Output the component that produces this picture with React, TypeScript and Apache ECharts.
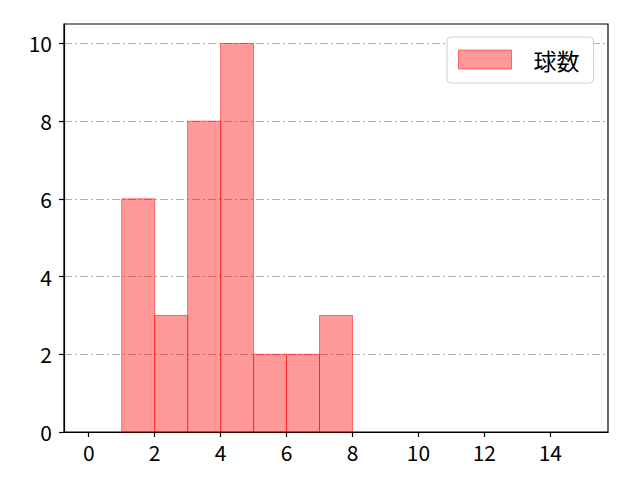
import React, { useEffect, useRef } from 'react';
import * as echarts from 'echarts';

// ヒストグラムのビン（左端・右端）と度数
const binStarts = [1, 2, 3, 4, 5, 6, 7];
const binEnds = [2, 3, 4, 5, 6, 7, 8];
const counts = [6, 3, 8, 10, 2, 2, 3];
const seriesName = '球数';
const xTicks = [0, 2, 4, 6, 8, 10, 12, 14];
const yTicks = [0, 2, 4, 6, 8, 10];

const FONT = '"Noto Sans CJK JP", "Noto Sans", sans-serif';

const App: React.FC = () => {
  const chartRef = useRef<HTMLDivElement>(null);

  useEffect(() => {
    document.body.style.margin = '0';
    if (!chartRef.current) return;
    const chart = echarts.init(chartRef.current, null, { renderer: 'svg' });

    const data = binStarts.map((s, i) => [s, binEnds[i], counts[i]]);

    const option: any = {
      animation: false,
      grid: {
        left: 64,
        right: 32,
        top: 24,
        bottom: 48,
        show: true,
        borderColor: '#000',
        borderWidth: 1.2,
        backgroundColor: 'transparent'
      },
      legend: {
        left: 447,
        top: 37,
        orient: 'vertical',
        padding: [11, 14, 12, 11],
        backgroundColor: '#fff',
        borderColor: '#d0d0d0',
        borderWidth: 1,
        borderRadius: 4,
        itemWidth: 53,
        itemHeight: 19,
        textStyle: { fontFamily: FONT, fontSize: 23, color: '#000', padding: [0, 0, 0, 17] },
        data: [
          {
            name: seriesName,
            icon: 'rect',
            itemStyle: { color: 'rgba(255,0,0,0.4)', borderColor: 'rgba(255,0,0,0.5)', borderWidth: 1 }
          }
        ]
      },
      xAxis: {
        type: 'value',
        min: -0.75,
        max: 15.75,
        axisLine: { show: true, onZero: false, lineStyle: { color: '#000', width: 1.2 } },
        axisTick: { show: true, customValues: xTicks, length: 5, lineStyle: { color: '#000', width: 1.2 } },
        axisLabel: {
          customValues: xTicks,
          fontFamily: FONT,
          fontSize: 21,
          color: '#000',
          margin: 9
        },
        splitLine: { show: false }
      },
      yAxis: {
        type: 'value',
        min: 0,
        max: 10.5,
        axisLine: { show: true, onZero: false, lineStyle: { color: '#000', width: 1.2 } },
        axisTick: { show: true, customValues: yTicks, length: 5, lineStyle: { color: '#000', width: 1.2 } },
        axisLabel: {
          customValues: yTicks,
          fontFamily: FONT,
          fontSize: 21,
          color: '#000',
          margin: 12
        },
        interval: 2,
        splitLine: {
          show: true,
          lineStyle: { color: '#b0b0b0', width: 1, type: [8, 3, 2, 3] }
        }
      },
      series: [
        {
          name: seriesName,
          type: 'custom',
          itemStyle: { color: 'rgba(255,0,0,0.4)' },
          encode: { x: [0, 1], y: 2 },
          data,
          renderItem: (params: any, api: any) => {
            const p0 = api.coord([api.value(0), api.value(2)]);
            const p1 = api.coord([api.value(1), 0]);
            return {
              type: 'rect',
              shape: { x: p0[0], y: p0[1], width: p1[0] - p0[0], height: p1[1] - p0[1] },
              style: {
                fill: 'rgba(255,0,0,0.4)',
                stroke: 'rgba(255,0,0,0.5)',
                lineWidth: 1
              }
            };
          }
        }
      ]
    };

    chart.setOption(option);
    return () => {
      chart.dispose();
    };
  }, []);

  return <div ref={chartRef} style={{ width: 640, height: 480 }} />;
};

export default App;
